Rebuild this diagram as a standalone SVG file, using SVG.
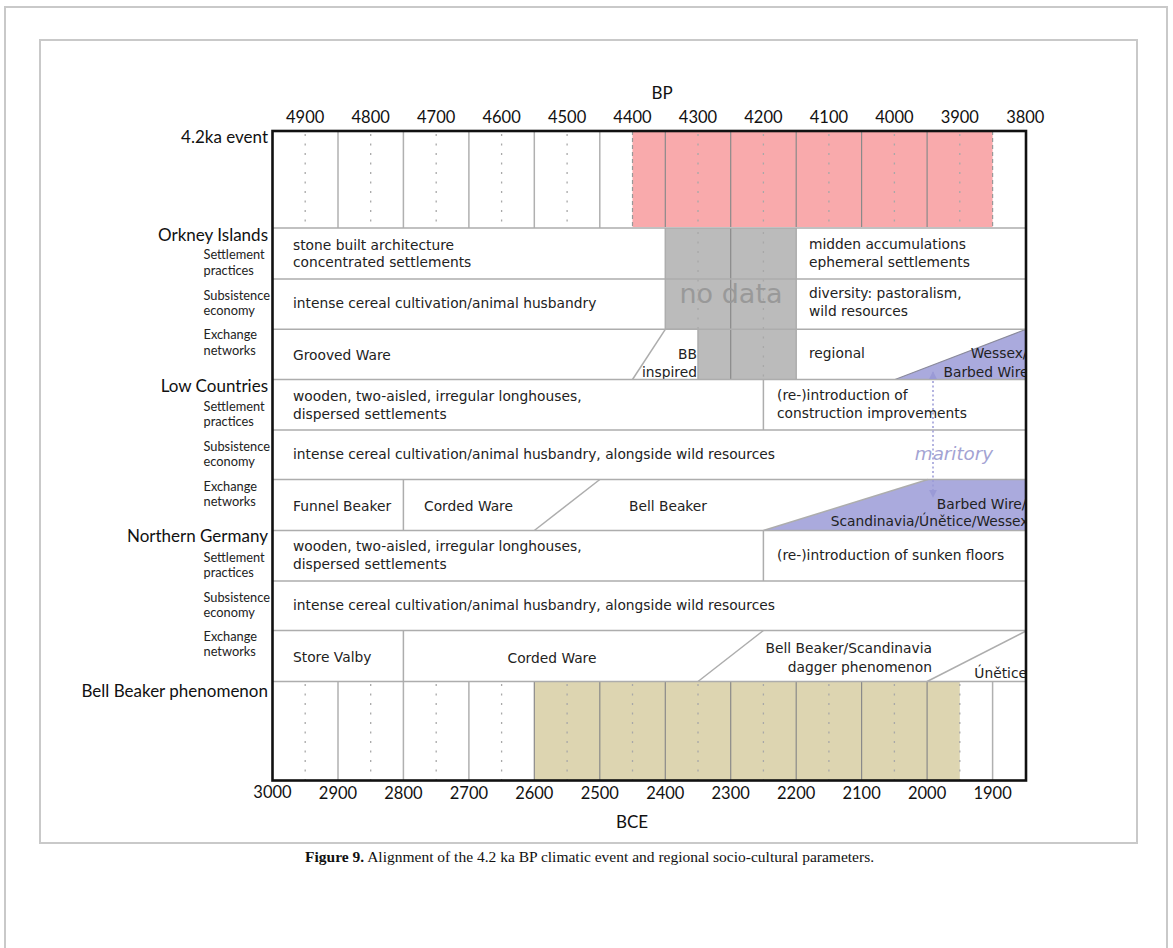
<svg xmlns="http://www.w3.org/2000/svg" width="1173" height="948" viewBox="0 0 1173 948">
<defs>
<style>
.lbl{font-family:Lato,"Open Sans",sans-serif;font-size:17px;fill:#111}
.num{font-family:Lato,"Open Sans",sans-serif;font-size:16.5px;fill:#111;text-anchor:middle}
.sub{font-family:Lato,"Open Sans",sans-serif;font-size:12.8px;fill:#222}
.cell{font-family:"DejaVu Sans",Verdana,sans-serif;font-size:13.8px;fill:#222}
.sep{stroke:#adadad;stroke-width:1.5;fill:none}
.vsol{stroke:#b0b0b0;stroke-width:1.5}
.vdark{stroke:#8a8a8a;stroke-width:1.2}
.vdot{stroke:#a8a8a8;stroke-width:1.3;stroke-dasharray:2 7.5}
.edge{stroke:#999;stroke-width:1.2;stroke-dasharray:4 3}
.frame{fill:none;stroke:#c9c9c9;stroke-width:2}
.cap{font-family:"Liberation Serif","Times New Roman",serif;font-size:15.5px;fill:#111}
</style>
<clipPath id="chartclip"><rect x="272.5" y="131" width="752.5" height="649.5"/></clipPath>
<marker id="ah" viewBox="0 0 10 10" refX="9" refY="5" markerWidth="8" markerHeight="9" markerUnits="userSpaceOnUse" orient="auto-start-reverse">
<path d="M0,0 L10,5 L0,10 Z" fill="#9a9ad6"/>
</marker>
</defs>
<rect width="1173" height="948" fill="#fff"/>
<g id="frames">
<path class="frame" d="M5,948 V7 H1167 V948"/>
<rect class="frame" x="40" y="40" width="1097" height="803"/>
</g>

<g id="axis-top">
<text class="lbl" x="662" y="99" text-anchor="middle">BP</text>
<text class="num" x="305.2" y="123">4900</text>
<text class="num" x="370.7" y="123">4800</text>
<text class="num" x="436.2" y="123">4700</text>
<text class="num" x="501.6" y="123">4600</text>
<text class="num" x="567.1" y="123">4500</text>
<text class="num" x="632.5" y="123">4400</text>
<text class="num" x="698" y="123">4300</text>
<text class="num" x="763.4" y="123">4200</text>
<text class="num" x="828.9" y="123">4100</text>
<text class="num" x="894.4" y="123">4000</text>
<text class="num" x="959.8" y="123">3900</text>
<text class="num" x="1025.3" y="123">3800</text>
</g>

<g id="axis-bottom">
<text class="num" x="272.5" y="798">3000</text>
<text class="num" x="338" y="799">2900</text>
<text class="num" x="403.4" y="799">2800</text>
<text class="num" x="468.9" y="799">2700</text>
<text class="num" x="534.3" y="799">2600</text>
<text class="num" x="599.8" y="799">2500</text>
<text class="num" x="665.3" y="799">2400</text>
<text class="num" x="730.7" y="799">2300</text>
<text class="num" x="796.2" y="799">2200</text>
<text class="num" x="861.6" y="799">2100</text>
<text class="num" x="927.1" y="799">2000</text>
<text class="num" x="992.6" y="799">1900</text>
<text class="lbl" x="632" y="828" text-anchor="middle">BCE</text>
</g>

<g id="row-labels">
<text class="lbl" x="268" y="143" text-anchor="end">4.2ka event</text>
<text class="lbl" x="268" y="241" text-anchor="end">Orkney Islands</text>
<text class="sub" x="203.5" y="259">Settlement</text>
<text class="sub" x="203.5" y="274.5">practices</text>
<text class="sub" x="203.5" y="299.5">Subsistence</text>
<text class="sub" x="203.5" y="315">economy</text>
<text class="sub" x="203.5" y="339">Exchange</text>
<text class="sub" x="203.5" y="354.5">networks</text>
<text class="lbl" x="268" y="392" text-anchor="end">Low Countries</text>
<text class="sub" x="203.5" y="410.5">Settlement</text>
<text class="sub" x="203.5" y="426">practices</text>
<text class="sub" x="203.5" y="450.5">Subsistence</text>
<text class="sub" x="203.5" y="466">economy</text>
<text class="sub" x="203.5" y="490.5">Exchange</text>
<text class="sub" x="203.5" y="506">networks</text>
<text class="lbl" x="268" y="542" text-anchor="end">Northern Germany</text>
<text class="sub" x="203.5" y="561.5">Settlement</text>
<text class="sub" x="203.5" y="577">practices</text>
<text class="sub" x="203.5" y="601.5">Subsistence</text>
<text class="sub" x="203.5" y="617">economy</text>
<text class="sub" x="203.5" y="640.5">Exchange</text>
<text class="sub" x="203.5" y="656">networks</text>
<text class="lbl" x="268" y="697" text-anchor="end">Bell Beaker phenomenon</text>
</g>

<g id="event-row">
<rect x="632.5" y="131" width="360.1" height="96" fill="#f9aaac"/>
<g class="vsol">
<line x1="338" y1="131" x2="338" y2="228"/>
<line x1="403.4" y1="131" x2="403.4" y2="228"/>
<line x1="468.9" y1="131" x2="468.9" y2="228"/>
<line x1="534.3" y1="131" x2="534.3" y2="228"/>
<line x1="599.8" y1="131" x2="599.8" y2="228"/>
</g>
<g class="vdark">
<line x1="665.3" y1="131" x2="665.3" y2="227"/>
<line x1="730.7" y1="131" x2="730.7" y2="227"/>
<line x1="796.2" y1="131" x2="796.2" y2="227"/>
<line x1="861.6" y1="131" x2="861.6" y2="227"/>
<line x1="927.1" y1="131" x2="927.1" y2="227"/>
</g>
<g class="vdot">
<line x1="305.2" y1="134" x2="305.2" y2="228"/>
<line x1="370.7" y1="134" x2="370.7" y2="228"/>
<line x1="436.2" y1="134" x2="436.2" y2="228"/>
<line x1="501.6" y1="134" x2="501.6" y2="228"/>
<line x1="567.1" y1="134" x2="567.1" y2="228"/>
<line x1="698" y1="134" x2="698" y2="228"/>
<line x1="763.4" y1="134" x2="763.4" y2="228"/>
<line x1="828.9" y1="134" x2="828.9" y2="228"/>
<line x1="894.4" y1="134" x2="894.4" y2="228"/>
<line x1="959.8" y1="134" x2="959.8" y2="228"/>
</g>
<g class="edge">
<line x1="632.5" y1="131" x2="632.5" y2="227"/>
<line x1="992.6" y1="131" x2="992.6" y2="227"/>
</g>
</g>

<g id="orkney">
<path d="M665.3,228 H796.2 V379.5 H698 V329.3 H665.3 Z" fill="#bbbbbb"/>
<g class="vdark">
<line x1="730.7" y1="228" x2="730.7" y2="379.5"/>
</g>
<g class="vdot">
<line x1="698" y1="232" x2="698" y2="329"/>
<line x1="763.4" y1="232" x2="763.4" y2="379"/>
</g>
<text x="731" y="303" font-family="DejaVu Sans,Verdana,sans-serif" font-size="27" fill="#999" text-anchor="middle">no data</text>
<path d="M895,379.5 L1026,329.3 V379.5 Z" fill="#aaaadd" stroke="#8a8a9a" stroke-width="1.2"/>
<g class="sep">
<path d="M665.3,228 V329.3 H698 V379.5"/>
<path d="M796.2,228 V379.5"/>
<path d="M665.3,329.3 L632.5,379.5"/>
</g>
<text class="cell" x="293" y="250">stone built architecture</text>
<text class="cell" x="293" y="267">concentrated settlements</text>
<text class="cell" x="293" y="308">intense cereal cultivation/animal husbandry</text>
<text class="cell" x="293" y="360">Grooved Ware</text>
<text class="cell" x="697" y="359" text-anchor="end">BB</text>
<text class="cell" x="697" y="377" text-anchor="end">inspired</text>
<text class="cell" x="809" y="249">midden accumulations</text>
<text class="cell" x="809" y="266.5">ephemeral settlements</text>
<text class="cell" x="809" y="298">diversity: pastoralism,</text>
<text class="cell" x="809" y="316">wild resources</text>
<text class="cell" x="809" y="358">regional</text>
<g clip-path="url(#chartclip)">
<text class="cell" x="1027.5" y="358" text-anchor="end">Wessex/</text>
<text class="cell" x="1028.5" y="377" text-anchor="end">Barbed Wire</text>
</g>
</g>

<g id="low-countries">
<path d="M763.4,530.5 L928,479.5 H1026 V530.5 Z" fill="#aaaadd"/>
<g class="sep">
<path d="M763.4,379.5 V430"/>
<path d="M403.4,479.5 V530.5"/>
<path d="M534.3,530.5 L599.8,479.5"/>
<path d="M763.4,530.5 L928,479.5"/>
</g>
<text class="cell" x="293" y="401">wooden, two-aisled, irregular longhouses,</text>
<text class="cell" x="293" y="418.5">dispersed settlements</text>
<text class="cell" x="777" y="400">(re-)introduction of</text>
<text class="cell" x="777" y="418">construction improvements</text>
<text class="cell" x="293" y="459">intense cereal cultivation/animal husbandry, alongside wild resources</text>
<text x="954" y="460" font-family="DejaVu Sans,Verdana,sans-serif" font-size="18.3" font-style="italic" fill="#a3a3d3" text-anchor="middle">maritory</text>
<text class="cell" x="293" y="511">Funnel Beaker</text>
<text class="cell" x="424" y="511">Corded Ware</text>
<text class="cell" x="668" y="511" text-anchor="middle">Bell Beaker</text>
<g clip-path="url(#chartclip)">
<text class="cell" x="1026.5" y="509" text-anchor="end">Barbed Wire/</text>
<text class="cell" x="1028.5" y="526" text-anchor="end">Scandinavia/Únětice/Wessex</text>
</g>
</g>

<g id="northern-germany">
<g class="sep">
<path d="M763.4,530.5 V581"/>
<path d="M403.4,630.5 V681.5"/>
<path d="M698,681.5 L763.4,630.5"/>
<path d="M927.1,681.5 L1026,631"/>
</g>
<text class="cell" x="293" y="551">wooden, two-aisled, irregular longhouses,</text>
<text class="cell" x="293" y="568.5">dispersed settlements</text>
<text class="cell" x="777" y="560">(re-)introduction of sunken floors</text>
<text class="cell" x="293" y="610">intense cereal cultivation/animal husbandry, alongside wild resources</text>
<text class="cell" x="293" y="661.5">Store Valby</text>
<text class="cell" x="552" y="663" text-anchor="middle">Corded Ware</text>
<text class="cell" x="932" y="653" text-anchor="end">Bell Beaker/Scandinavia</text>
<text class="cell" x="932" y="671.5" text-anchor="end">dagger phenomenon</text>
<g clip-path="url(#chartclip)">
<text class="cell" x="1027" y="678" text-anchor="end">Únětice</text>
</g>
</g>

<g id="bell-beaker-row">
<rect x="534.3" y="681.5" width="425.5" height="99" fill="#ddd5b1"/>
<g class="vsol">
<line x1="338" y1="681.5" x2="338" y2="780.5"/>
<line x1="403.4" y1="681.5" x2="403.4" y2="780.5"/>
<line x1="468.9" y1="681.5" x2="468.9" y2="780.5"/>
<line x1="992.6" y1="681.5" x2="992.6" y2="780.5"/>
</g>
<g class="vdark">
<line x1="534.3" y1="681.5" x2="534.3" y2="780.5"/>
<line x1="599.8" y1="681.5" x2="599.8" y2="780.5"/>
<line x1="665.3" y1="681.5" x2="665.3" y2="780.5"/>
<line x1="730.7" y1="681.5" x2="730.7" y2="780.5"/>
<line x1="796.2" y1="681.5" x2="796.2" y2="780.5"/>
<line x1="861.6" y1="681.5" x2="861.6" y2="780.5"/>
<line x1="927.1" y1="681.5" x2="927.1" y2="780.5"/>
</g>
<g class="vdot">
<line x1="305.2" y1="684" x2="305.2" y2="780"/>
<line x1="370.7" y1="684" x2="370.7" y2="780"/>
<line x1="436.2" y1="684" x2="436.2" y2="780"/>
<line x1="501.6" y1="684" x2="501.6" y2="780"/>
<line x1="567.1" y1="684" x2="567.1" y2="780"/>
<line x1="632.5" y1="684" x2="632.5" y2="780"/>
<line x1="698" y1="684" x2="698" y2="780"/>
<line x1="763.4" y1="684" x2="763.4" y2="780"/>
<line x1="828.9" y1="684" x2="828.9" y2="780"/>
<line x1="894.4" y1="684" x2="894.4" y2="780"/>
<line x1="959.8" y1="684" x2="959.8" y2="780"/>
</g>
</g>

<g id="row-separators" class="sep">
<line x1="272.5" y1="228" x2="1026" y2="228"/>
<line x1="272.5" y1="279" x2="1026" y2="279"/>
<line x1="272.5" y1="329.3" x2="1026" y2="329.3"/>
<line x1="272.5" y1="379.5" x2="1026" y2="379.5"/>
<line x1="272.5" y1="430" x2="1026" y2="430"/>
<line x1="272.5" y1="479.5" x2="1026" y2="479.5"/>
<line x1="272.5" y1="530.5" x2="1026" y2="530.5"/>
<line x1="272.5" y1="581" x2="1026" y2="581"/>
<line x1="272.5" y1="630.5" x2="1026" y2="630.5"/>
<line x1="272.5" y1="681.5" x2="1026" y2="681.5"/>
</g>

<g id="connectors">
<line x1="933" y1="372" x2="933" y2="497" stroke="#9a9ad6" stroke-width="1.5" stroke-dasharray="2 2.5" marker-start="url(#ah)" marker-end="url(#ah)"/>
</g>

<g id="chart-border">
<rect x="272.5" y="131" width="753.5" height="649.5" fill="none" stroke="#111" stroke-width="2.6"/>
</g>

<g id="caption">
<text class="cap" x="305" y="862"><tspan font-weight="bold">Figure 9.</tspan> Alignment of the 4.2 ka BP climatic event and regional socio-cultural parameters.</text>
</g>
</svg>
